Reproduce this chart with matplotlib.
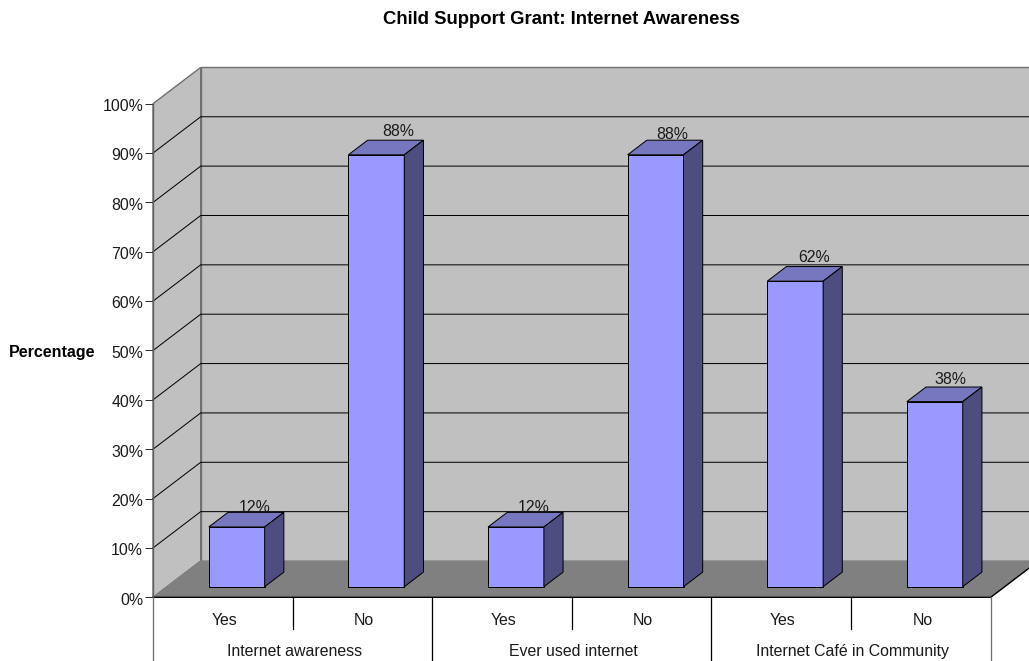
import matplotlib
matplotlib.use("Agg")
import matplotlib.pyplot as plt
from matplotlib.patches import Polygon
from matplotlib.transforms import ScaledTranslation

plt.rcParams['font.family'] = ['Liberation Sans', 'DejaVu Sans']

# ---- data ----
title = "Child Support Grant: Internet Awareness"
ylabel = "Percentage"
answers = ["Yes", "No", "Yes", "No", "Yes", "No"]
groups = ["Internet awareness", "Ever used internet", "Internet Café in Community"]
values = [12.1, 87.5, 12.1, 87.5, 61.9, 37.5]
value_labels = ["12%", "88%", "12%", "88%", "62%", "38%"]
yticks = [0, 10, 20, 30, 40, 50, 60, 70, 80, 90, 100]

# ---- layout (pixels of the 1029x661 canvas) ----
W, H = 1029, 661
LEFT, RIGHT, BASE, TOP = 153.0, 990.7, 597.3, 103.7
PX_X = (RIGHT - LEFT) / len(values)
PX_Y = (BASE - TOP) / 100.0
DX = 47.7 / PX_X      # full depth, in data units
DY = 36.3 / PX_Y
BAR_W = 0.4
Z0, Z1 = 0.292, 0.694  # bar's depth extent
PX = 0.72              # 1px line in points
FS = 11.4

WALL, FLOOR, EDGE = "#C0C0C0", "#808080", "#707070"
FRONT, TOPC, SIDE = "#9999FF", "#7777C0", "#4D4D80"
TXT = "#1a1a1a"

fig = plt.figure(figsize=(W / 100, H / 100), dpi=100)
ax = fig.add_axes([LEFT / W, 1 - BASE / H, (RIGHT - LEFT) / W, (BASE - TOP) / H])
ax.set_xlim(0, len(values))
ax.set_ylim(0, 100)
ax.patch.set_visible(False)
for s in ("top", "right", "bottom"):
    ax.spines[s].set_visible(False)
ax.spines["left"].set_color("#606060")
ax.spines["left"].set_linewidth(1.0)


def p(x, y, z=0.0):
    return (x + z * DX, y + z * DY)


def poly(points, fc, ec, lw=PX, zorder=1):
    ax.add_patch(Polygon(points, closed=True, facecolor=fc, edgecolor=ec,
                         linewidth=lw, zorder=zorder, clip_on=False, joinstyle="miter"))


n = len(values)
# walls and floor
poly([p(0, 0), p(0, 100), p(0, 100, 1), p(0, 0, 1)], WALL, EDGE, 1.0)
poly([p(0, 0, 1), p(0, 100, 1), p(n, 100, 1), p(n, 0, 1)], WALL, EDGE, 1.0)
poly([p(0, 0), p(0, 0, 1), p(n, 0, 1), p(n, 0)], FLOOR, FLOOR, PX, zorder=1.1)

# grid lines
for v in yticks[1:-1]:
    ax.plot(*zip(p(0, v), p(0, v, 1), p(n, v, 1)), color="black", lw=PX, zorder=1.2,
            clip_on=False, solid_joinstyle="miter")

# floor's front and right edges
ax.plot(*zip(p(0, 0), p(n, 0), p(n, 0, 1)), color="black", lw=1.0, zorder=1.3, clip_on=False)

# data labels lie behind the bars (nudges in pixels)
label_dx = [18, 21.5, 17.5, 17, 19, 15.5]
label_dy = [4.5, 8.8, 4.5, 5.8, 8.8, 7.8]
for i, v in enumerate(values):
    ax.annotate(value_labels[i], xy=(i + 0.5 + Z0 * DX, v + Z1 * DY),
                xytext=(label_dx[i] * 0.72, label_dy[i] * 0.72),
                textcoords="offset points", ha="center", va="center", fontsize=FS, color=TXT,
                zorder=1.4, annotation_clip=False)

# bars
for i, v in enumerate(values):
    x0, x1 = i + 0.5 - BAR_W / 2, i + 0.5 + BAR_W / 2
    poly([p(x0, 0, Z0), p(x0, v, Z0), p(x1, v, Z0), p(x1, 0, Z0)], FRONT, "black", PX, zorder=2)
    poly([p(x0, v, Z0), p(x0, v, Z1), p(x1, v, Z1), p(x1, v, Z0)], TOPC, "black", PX, zorder=2)
    poly([p(x1, 0, Z0), p(x1, v, Z0), p(x1, v, Z1), p(x1, 0, Z1)], SIDE, "black", PX, zorder=2)

# axes
ax.set_yticks(yticks)
ax.set_yticklabels([f"{v}%" for v in yticks], fontsize=FS, color=TXT)
ax.tick_params(axis="y", length=5.8, width=PX, pad=1.3, color="#303030")
ax.set_xticks([])
nudge = ScaledTranslation(0, -1.3 / 100, fig.dpi_scale_trans)
for lab in ax.get_yticklabels():
    lab.set_transform(lab.get_transform() + nudge)

trans = ax.get_xaxis_transform()


def below(px):
    return -(px - BASE) / (BASE - TOP)


for i in range(n + 1):
    if i % 2:
        bottom, col = 628.5, "black"
    elif i in (0, n):
        bottom, col = 660.5, EDGE
    else:
        bottom, col = 660.5, "black"
    ax.plot([i, i], [0, below(bottom)], transform=trans, color=col, lw=PX + 0.2,
            clip_on=False, zorder=1.3)

TX = 1.5 / PX_X
for i, a in enumerate(answers):
    ax.text(i + 0.5 + TX, below(620.5), a, transform=trans, ha="center", va="center",
            fontsize=FS, color=TXT)
for i, g in enumerate(groups):
    ax.text(2 * i + 1 + TX, below(651.5), g, transform=trans, ha="center", va="center",
            fontsize=FS, color=TXT)

fig.text(561.5 / W, 1 - 19 / H, title, ha="center", va="center", fontsize=13.3, fontweight="bold", color="black")
fig.text(52.5 / W, 1 - 352.5 / H, ylabel, ha="center", va="center", fontsize=11.5, fontweight="bold", color="black")

fig.savefig("out.png", dpi=100, facecolor="white")
